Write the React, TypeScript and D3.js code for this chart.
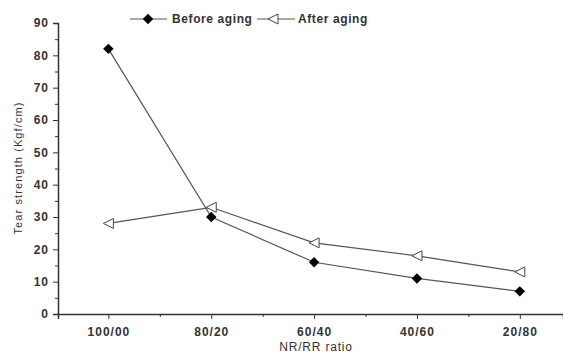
import * as d3 from "d3";
import { useEffect, useRef } from "react";

const ratios = ["100/00", "80/20", "60/40", "40/60", "20/80"];
const beforeAging = [82, 30, 16, 11, 7];
const afterAging = [28, 33, 22, 18, 13];
const yTicks = [0, 10, 20, 30, 40, 50, 60, 70, 80, 90];

export default function App() {
  const ref = useRef<SVGSVGElement>(null);

  useEffect(() => {
    const svg = d3.select(ref.current);
    svg.selectAll("*").remove();

    const left = 58;
    const right = 563;
    const top = 23;
    const bottom = 314;
    const font = "Arial, 'Liberation Sans', sans-serif";
    const ink = "#333";

    const x = d3.scaleLinear().domain([0.51, 5.42]).range([left, right]);
    const y = d3.scaleLinear().domain([0, 90]).range([bottom, top]);

    // Axes
    const xAxis = svg
      .append("g")
      .attr("transform", `translate(0,${bottom})`)
      .call(
        d3.axisBottom(x)
          .tickValues(d3.range(1, ratios.length + 1))
          .tickSize(5)
          .tickFormat((d) => ratios[(d as number) - 1])
      );
    xAxis.select(".domain").attr("stroke", ink).attr("stroke-width", 1.5);
    xAxis.selectAll("line").attr("stroke", ink);
    xAxis
      .selectAll("text")
      .attr("font-family", font)
      .attr("font-size", "12px")
      .attr("font-weight", "bold")
      .attr("letter-spacing", "1px")
      .attr("fill", ink)
      .attr("dy", "1.15em");

    svg
      .append("g")
      .attr("transform", `translate(0,${bottom})`)
      .call(
        d3.axisBottom(x)
          .tickValues(d3.range(1.5, ratios.length, 1))
          .tickSize(3)
          .tickFormat(() => "")
      )
      .call((g) => g.select(".domain").remove())
      .selectAll("line")
      .attr("stroke", ink);

    const yAxis = svg
      .append("g")
      .attr("transform", `translate(${left},0)`)
      .call(d3.axisLeft(y).tickValues(yTicks).tickSize(5).tickPadding(4));
    yAxis.select(".domain").attr("stroke", ink).attr("stroke-width", 1.5);
    yAxis.selectAll("line").attr("stroke", ink);
    yAxis
      .selectAll("text")
      .attr("font-family", font)
      .attr("font-size", "12px")
      .attr("font-weight", "bold")
      .attr("letter-spacing", "1px")
      .attr("fill", ink);

    svg
      .append("g")
      .attr("transform", `translate(${left},0)`)
      .call(
        d3.axisLeft(y)
          .tickValues(d3.range(5, 90, 10))
          .tickSize(3)
          .tickFormat(() => "")
      )
      .call((g) => g.select(".domain").remove())
      .selectAll("line")
      .attr("stroke", ink);

    // Axis titles
    svg
      .append("text")
      .attr("x", 316)
      .attr("y", 351)
      .attr("text-anchor", "middle")
      .attr("font-family", font)
      .attr("font-size", "12px")
      .attr("letter-spacing", "0.8px")
      .attr("fill", ink)
      .text("NR/RR ratio");

    svg
      .append("text")
      .attr("transform", `translate(22,168) rotate(-90)`)
      .attr("text-anchor", "middle")
      .attr("font-family", font)
      .attr("font-size", "11px")
      .attr("letter-spacing", "1.1px")
      .attr("fill", ink)
      .text("Tear strength (Kgf/cm)");

    const line = d3
      .line<number>()
      .x((d, i) => x(i + 1))
      .y((d) => y(d));

    const diamond = d3.symbol().type(d3.symbolDiamond2).size(70);
    const triangle = "M-5,0 L5,-5 L5,5 Z";

    // Series
    svg
      .append("path")
      .datum(afterAging)
      .attr("fill", "none")
      .attr("stroke", "#555")
      .attr("stroke-width", 1.2)
      .attr("d", line);

    svg
      .append("path")
      .datum(beforeAging)
      .attr("fill", "none")
      .attr("stroke", "#555")
      .attr("stroke-width", 1.2)
      .attr("d", line);

    svg
      .selectAll(".after")
      .data(afterAging)
      .enter()
      .append("path")
      .attr("transform", (d, i) => `translate(${x(i + 1)},${y(d)})`)
      .attr("d", triangle)
      .attr("fill", "white")
      .attr("stroke", "#444")
      .attr("stroke-width", 1);

    svg
      .selectAll(".before")
      .data(beforeAging)
      .enter()
      .append("path")
      .attr("transform", (d, i) => `translate(${x(i + 1)},${y(d)})`)
      .attr("d", diamond)
      .attr("fill", "black");

    // Legend
    const legend = svg.append("g").attr("transform", "translate(130,19)");
    legend.append("line").attr("x1", 0).attr("x2", 37).attr("stroke", "#555").attr("stroke-width", 1.2);
    legend.append("path").attr("transform", "translate(18,0)").attr("d", diamond).attr("fill", "black");
    legend
      .append("text")
      .attr("x", 42)
      .attr("dy", "0.35em")
      .attr("font-family", font)
      .attr("font-size", "12px")
      .attr("font-weight", "bold")
      .attr("letter-spacing", "0.6px")
      .attr("fill", ink)
      .text("Before aging");
    legend.append("line").attr("x1", 127).attr("x2", 165).attr("stroke", "#555").attr("stroke-width", 1.2);
    legend
      .append("path")
      .attr("transform", "translate(143,0)")
      .attr("d", triangle)
      .attr("fill", "white")
      .attr("stroke", "#444");
    legend
      .append("text")
      .attr("x", 168)
      .attr("dy", "0.35em")
      .attr("font-family", font)
      .attr("font-size", "12px")
      .attr("font-weight", "bold")
      .attr("letter-spacing", "0.6px")
      .attr("fill", ink)
      .text("After aging");
  }, []);

  return (
    <svg
      ref={ref}
      width={563}
      height={353}
      style={{ position: "absolute", left: 0, top: 0, background: "white" }}
    />
  );
}
